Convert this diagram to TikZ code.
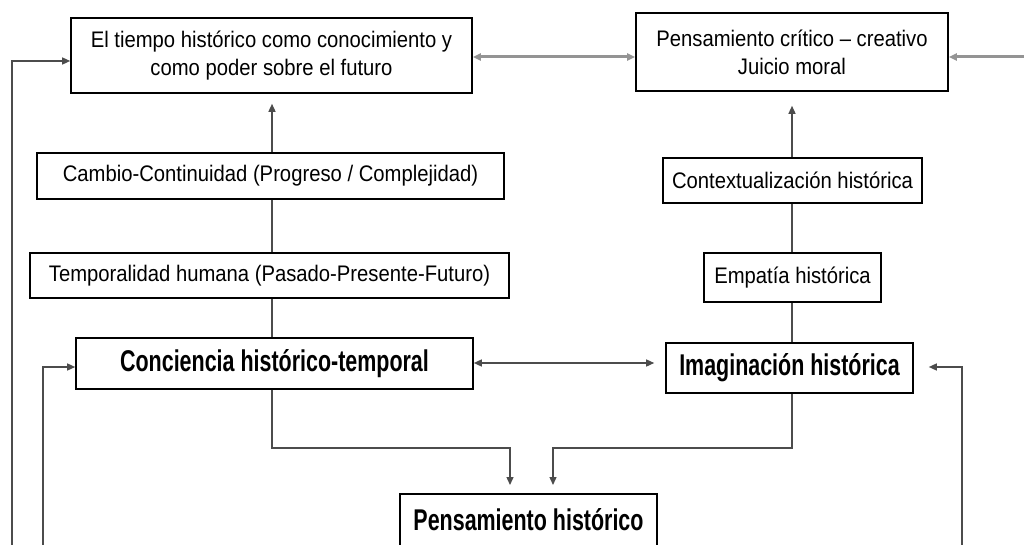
\documentclass[tikz,border=0pt]{standalone}
\usepackage{fontspec}
\setmainfont{Liberation Sans}[FakeStretch=0.9]
\newfontfamily\narrowbold{Liberation Sans}[FakeStretch=0.715]
\usetikzlibrary{arrows.meta,positioning,calc}
\tikzset{
      arr/.style = {-{Triangle[length=8pt,width=7pt]}, line width=1.4pt, black!70},  % arrow heads
     link/.style = {line width=1.4pt, black!70},
    wlink/.style = {line width=3pt, black!42},
      box/.style = {draw, line width=1.6pt, align=center, inner sep=0pt,
                    font=\fontsize{22.5}{28}\selectfont},
   bigbox/.style = {box, font=\narrowbold\bfseries\fontsize{30}{32}\selectfont},
        }
\begin{document}
\begin{tikzpicture}[x=1pt,y=-1pt]
  \useasboundingbox (0,0) rectangle (1024,545);
  \clip (0,0) rectangle (1024,545);
  % top row
  \node[box, minimum width=401pt, minimum height=75pt] (tiempo) at (271.5,55.5)
       {El tiempo histórico como conocimiento y\\como poder sobre el futuro};
  \node[box, minimum width=312pt, minimum height=78pt] (critico) at (792,52)
       {Pensamiento crítico -- creativo\\Juicio moral};
  % left column
  \node[box, minimum width=467pt, minimum height=46pt] (cambio) at (270.5,176)
       {Cambio-Continuidad (Progreso / Complejidad)};
  \node[box, minimum width=479pt, minimum height=45pt] (temporal) at (269.5,275.5)
       {Temporalidad humana (Pasado-Presente-Futuro)};
  \node[bigbox, minimum width=397pt, minimum height=51pt] (conciencia) at (274.5,363.5)
       {Conciencia histórico-temporal};
  % right column
  \node[box, minimum width=259pt, minimum height=45pt] (contexto) at (792.5,180.5)
       {Contextualización histórica};
  \node[box, minimum width=177pt, minimum height=49pt] (empatia) at (792.5,277.5)
       {Empatía histórica};
  \node[bigbox, minimum width=247pt, minimum height=50pt] (imaginacion) at (789.5,368)
       {Imaginación histórica};
  % bottom
  \node[bigbox, minimum width=257pt, minimum height=52pt, anchor=north] (pensamiento) at (528.5,493)
       {Pensamiento histórico};

  \coordinate (lft) at (12,545);
  \coordinate (inl) at (43,545);
  \coordinate (rgt) at (962,545);
  \coordinate (top) at (1024,57);

  % connectors
  \draw[wlink, {Triangle[length=8pt,width=7pt]}-{Triangle[length=8pt,width=7pt]}]
       (tiempo.east |- 0,57) -- (critico.west |- 0,57);
  \draw[wlink, -{Triangle[length=8pt,width=7pt]}] (top) -- (critico.east |- top);
  \draw[arr] (lft) |- (tiempo.west |- 0,61);
  \draw[arr] (inl) |- (conciencia.west |- 0,367);
  \draw[arr, shorten >=15pt] (rgt) |- (imaginacion.east |- 0,367);

  \draw[arr, shorten >=10pt] (cambio.north -| 272,0) -- (tiempo.south -| 272,0);
  \draw[link] (temporal.north -| 272,0) -- (cambio.south -| 272,0);
  \draw[link] (conciencia.north -| 272,0) -- (temporal.south -| 272,0);
  \draw[arr, shorten >=14pt] (contexto.north -| 792,0) -- (critico.south -| 792,0);
  \draw[link] (empatia.north -| 792,0) -- (contexto.south -| 792,0);
  \draw[link] (imaginacion.north -| 792,0) -- (empatia.south -| 792,0);

  \draw[arr, {Triangle[length=8pt,width=7pt]}-{Triangle[length=8pt,width=7pt]}, shorten >=11pt]
       (conciencia.east |- 0,363) -- (imaginacion.west |- 0,363);

  \draw[arr, shorten >=8pt] (conciencia.south -| 272,0) -- (272,448) -| (pensamiento.north -| 510,0);
  \draw[arr, shorten >=8pt] (imaginacion.south -| 792,0) -- (792,448) -| (pensamiento.north -| 553,0);
\end{tikzpicture}
\end{document}
